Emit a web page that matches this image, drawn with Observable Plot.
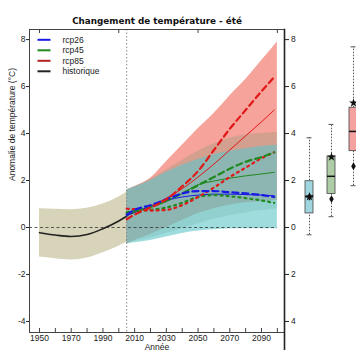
<!DOCTYPE html>
<html><head><meta charset="utf-8">
<script src="https://cdn.jsdelivr.net/npm/d3@7"></script>
<script src="https://cdn.jsdelivr.net/npm/@observablehq/plot@0.6"></script>
<style>
html,body{margin:0;padding:0;overflow:hidden;background:#fff;}
#wrap{position:relative;width:356px;height:350px;}
#wrap svg{position:absolute;left:0;top:0;max-width:none;}
</style></head><body><div id="wrap"></div>
<script>
// ---------- data ----------
const title = "Changement de température - été";
const xLabel = "Année";
const yLabel = "Anomalie de température (°C)";

const xLabelTicks = [1950, 1970, 1990, 2010, 2030, 2050, 2070, 2090];
const xMinorTicks = [1950, 1960, 1970, 1980, 1990, 2000, 2010, 2020, 2030, 2040, 2050, 2060, 2070, 2080, 2090, 2100];
const xTopTicks = [1950, 2000, 2050, 2100];
const yTicks = [8, 6, 4, 2, 0, -2, -4];
const yLeftLabels = ["8", "6", "4", "2", "0", "-2", "-4"];
const yRightLabels = ["8", "6", "4", "2", "0", "2", "4"];
const refYear = [2005];
const zeroLine = [0];

const histYears = [1950, 1960, 1970, 1980, 1990, 2000, 2005];
const histMean  = [-0.22, -0.32, -0.38, -0.3, -0.05, 0.28, 0.48];
const histLow   = [-1.26, -1.33, -1.38, -1.3, -1.08, -0.8, -0.63];
const histHigh  = [0.8, 0.78, 0.76, 0.82, 1.0, 1.3, 1.5];

const futYears  = [2005, 2010, 2020, 2030, 2040, 2050, 2060, 2070, 2080, 2090, 2100];
const rcp26Low  = [-0.7, -0.65, -0.55, -0.4, -0.25, -0.15, -0.1, -0.05, -0.05, -0.05, -0.05];
const rcp26High = [1.6, 1.72, 2.0, 2.35, 2.65, 2.9, 3.1, 3.25, 3.35, 3.45, 3.5];
const rcp45Low  = [-0.7, -0.6, -0.45, -0.25, -0.05, 0.15, 0.35, 0.5, 0.62, 0.72, 0.8];
const rcp45High = [1.6, 1.72, 2.05, 2.45, 2.85, 3.25, 3.55, 3.8, 3.95, 4.0, 4.05];
const rcp85Low  = [-0.7, -0.55, -0.3, 0.0, 0.3, 0.6, 0.8, 0.95, 1.05, 1.1, 1.15];
const rcp85High = [1.6, 1.75, 2.1, 2.8, 3.5, 4.2, 4.85, 5.6, 6.3, 7.1, 7.9];

const lineYears   = [2005, 2010, 2020, 2030, 2040, 2050, 2060, 2070, 2080, 2090, 2098];
const rcp26Solid  = [0.5, 0.65, 0.9, 1.15, 1.3, 1.38, 1.42, 1.42, 1.4, 1.38, 1.35];
const rcp26Dashed = [0.55, 0.75, 0.95, 1.2, 1.45, 1.55, 1.55, 1.5, 1.45, 1.38, 1.3];
const rcp45Solid  = [0.5, 0.65, 0.85, 1.1, 1.45, 1.82, 1.98, 2.1, 2.2, 2.28, 2.35];
const rcp45Dashed = [0.6, 0.7, 0.9, 1.15, 1.45, 1.8, 2.15, 2.5, 2.8, 3.0, 3.2];
const rcp45Dotted = [0.65, 0.7, 0.75, 0.85, 1.05, 1.3, 1.38, 1.33, 1.25, 1.15, 1.05];
const rcp85Solid  = [0.5, 0.65, 0.9, 1.25, 1.65, 2.15, 2.7, 3.3, 3.9, 4.5, 5.0];
const rcp85Dashed = [0.35, 0.55, 0.85, 1.2, 1.75, 2.4, 3.3, 4.2, 5.0, 5.8, 6.4];
const rcp85Dotted = [0.8, 0.78, 0.72, 0.75, 0.95, 1.3, 1.7, 2.15, 2.55, 2.95, 3.2];

const legendLabels = ["rcp26", "rcp45", "rcp85", "historique"];

const scenarios = ["rcp26", "rcp45", "rcp85"];
const boxWhiskLow  = [-0.31, 0.46, 1.78];
const boxQ1        = [0.6, 1.43, 3.25];
const boxMedian    = [1.31, 2.18, 4.09];
const boxQ3        = [1.97, 3.02, 5.1];
const boxWhiskHigh = [3.82, 4.39, 7.69];
const boxStar      = [1.31, 3.0, 5.3];
const boxDiamond   = [1.31, 1.21, 2.61];

// ---------- styles ----------
const C26 = "#1a1ae6", C45 = "#1f8a1f", C85 = "#e01818", CHIST = "#222222";
const legendColors = [C26, C45, "#b52020", CHIST];
const boxFills = ["#a0d6e0", "#aecca6", "#f4a2a0"];
const FONT = "'Liberation Sans Narrow', 'Liberation Sans', Arial, sans-serif";

// ---------- tables ----------
const zip = (xs, cols) => xs.map((x, i) => Object.fromEntries([["x", x], ...Object.entries(cols).map(([k, v]) => [k, v[i]])]));
const hist = zip(histYears, {m: histMean, lo: histLow, hi: histHigh});
const fut = zip(futYears, {lo26: rcp26Low, hi26: rcp26High, lo45: rcp45Low, hi45: rcp45High, lo85: rcp85Low, hi85: rcp85High});
const lines = zip(lineYears, {s26: rcp26Solid, d26: rcp26Dashed, s45: rcp45Solid, d45: rcp45Dashed, p45: rcp45Dotted, s85: rcp85Solid, d85: rcp85Dashed, p85: rcp85Dotted});
const boxes = scenarios.map((s, i) => ({s, lo: boxWhiskLow[i], q1: boxQ1[i], med: boxMedian[i], q3: boxQ3[i], hi: boxWhiskHigh[i], star: boxStar[i], dia: boxDiamond[i]}));
const leftMap = new Map(yTicks.map((t, i) => [t, yLeftLabels[i]]));
const rightMap = new Map(yTicks.map((t, i) => [t, yRightLabels[i]]));

const lineSymbol = {draw(ctx) { ctx.moveTo(-6.5, 0); ctx.lineTo(6.5, 0); }};
const curve = "monotone-x";
const xDomain = [1943.7, 2104.5];
const yDomain = [-4.47, 8.43];

const legendMarks = legendLabels.flatMap((k, i) => [
  Plot.dot([k], {frameAnchor: "top-left", dx: 14.5, dy: 10.3 + i * 10.5, symbol: lineSymbol, stroke: legendColors[i], strokeWidth: 2, r: 3}),
  Plot.text([k], {frameAnchor: "top-left", dx: 33, dy: 10.3 + i * 10.5, text: d => d, textAnchor: "start", lineAnchor: "middle", fill: "#222", fontSize: 8.5})
]);

const main = Plot.plot({
  width: 356, height: 350,
  marginLeft: 29, marginRight: 72, marginTop: 29, marginBottom: 18,
  x: {domain: xDomain},
  y: {domain: yDomain},
  style: {fontFamily: FONT, fontSize: "8.5px", background: "transparent", color: "#222"},
  marks: [
    Plot.areaY(hist, {x: "x", y1: "lo", y2: "hi", fill: "#d7d4b9", curve}),
    Plot.areaY(fut, {x: "x", y1: "lo85", y2: "hi85", fill: "#ef5a48", fillOpacity: 0.55, curve}),
    Plot.areaY(fut, {x: "x", y1: "lo45", y2: "hi45", fill: "#6b8e6b", fillOpacity: 0.25, curve}),
    Plot.areaY(fut, {x: "x", y1: "lo26", y2: "hi26", fill: "#5fc4c8", fillOpacity: 0.6, curve}),
    Plot.ruleY(zeroLine, {y: d => d, x1: xDomain[0], x2: 2100, stroke: "#333", strokeWidth: 0.8, strokeDasharray: "3,2.5"}),
    Plot.ruleX(refYear, {x: d => d, stroke: "#888", strokeWidth: 1, strokeDasharray: "1.5,2"}),
    Plot.line(hist, {x: "x", y: "m", stroke: CHIST, strokeWidth: 1.6, curve}),
    Plot.line(lines, {x: "x", y: "s85", stroke: C85, strokeWidth: 1, curve}),
    Plot.line(lines, {x: "x", y: "s45", stroke: C45, strokeWidth: 1, curve}),
    Plot.line(lines, {x: "x", y: "s26", stroke: C26, strokeWidth: 1, curve}),
    Plot.line(lines, {x: "x", y: "p45", stroke: C45, strokeWidth: 2.2, strokeDasharray: "2,4", curve}),
    Plot.line(lines, {x: "x", y: "p85", stroke: C85, strokeWidth: 2.2, strokeDasharray: "2,4", curve}),
    Plot.line(lines, {x: "x", y: "d45", stroke: C45, strokeWidth: 2.2, strokeDasharray: "6,4", curve}),
    Plot.line(lines, {x: "x", y: "d26", stroke: C26, strokeWidth: 2.2, strokeDasharray: "6,4", curve}),
    Plot.line(lines, {x: "x", y: "d85", stroke: C85, strokeWidth: 2.2, strokeDasharray: "6,4", curve}),
    Plot.frame({stroke: "#444", strokeWidth: 1}),
    Plot.ruleX(xMinorTicks, {x: d => d, insetTop: 299, stroke: "#444"}),
    Plot.ruleX(xTopTicks, {x: d => d, insetBottom: 299, stroke: "#444"}),
    Plot.axisX({ticks: xLabelTicks, tickSize: 0, tickPadding: 2.5, tickFormat: d => String(d), label: null}),
    Plot.axisY({anchor: "left", ticks: yTicks, tickSize: 3, tickPadding: 1, tickFormat: d => leftMap.get(d), label: null}),
    Plot.axisY({anchor: "right", ticks: yTicks, tickSize: 4, tickPadding: 2.5, tickFormat: d => rightMap.get(d), label: null, stroke: "#222"}),
    Plot.text([yLabel], {frameAnchor: "left", rotate: -90, dx: -17, text: d => d, fill: "#222", fontSize: 8.5}),
    Plot.text([xLabel], {frameAnchor: "bottom", dy: 11, lineAnchor: "top", text: d => d, fill: "#222", fontSize: 8.5}),
    Plot.text([title], {frameAnchor: "top", dy: -6, lineAnchor: "bottom", text: d => d, fontWeight: "bold", fontSize: 8.8, fontFamily: "DejaVu Sans", fill: "#111"}),
    ...legendMarks
  ]
});

const box = Plot.plot({
  width: 356, height: 350,
  marginTop: 29, marginBottom: 0, marginLeft: 284, marginRight: 0,
  x: {type: "band", domain: scenarios, range: [298, 364], padding: 0, axis: null},
  y: {domain: yDomain, range: [332, 29], axis: null},
  color: {domain: scenarios, range: boxFills},
  style: {background: "transparent"},
  marks: [
    Plot.frame({anchor: "left", stroke: "#222", strokeWidth: 1.6}),
    Plot.ruleX(boxes, {x: "s", y1: "lo", y2: "hi", stroke: "#555", strokeDasharray: "1.5,1.5"}),
    Plot.tickY(boxes, {x: "s", y: "lo", insetLeft: 8.5, insetRight: 8.5, stroke: "#555"}),
    Plot.tickY(boxes, {x: "s", y: "hi", insetLeft: 8.5, insetRight: 8.5, stroke: "#555"}),
    Plot.barY(boxes, {x: "s", y1: "q1", y2: "q3", fill: "s", stroke: "#444", strokeWidth: 0.8, insetLeft: 7, insetRight: 7}),
    Plot.tickY(boxes, {x: "s", y: "med", insetLeft: 7, insetRight: 7, stroke: "#111", strokeWidth: 1.5}),
    Plot.dot(boxes, {x: "s", y: "dia", symbol: "diamond", fill: "#111", r: 2.4}),
    Plot.dot(boxes, {x: "s", y: "star", symbol: "star", fill: "#111", r: 2.8})
  ]
});

const wrap = document.getElementById("wrap");
wrap.appendChild(main);
wrap.appendChild(box);
</script></body></html>
